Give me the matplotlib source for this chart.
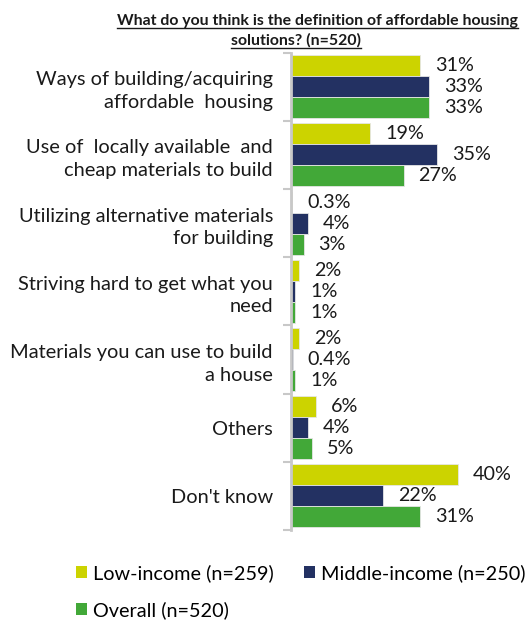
import matplotlib
matplotlib.use("Agg")
import matplotlib.pyplot as plt
from matplotlib.patches import Patch
from matplotlib.lines import Line2D
from matplotlib.ticker import FixedLocator
import numpy as np

plt.rcParams['font.family'] = ['Lato', 'DejaVu Sans']

categories = [
    "Ways of building/acquiring\naffordable  housing",
    "Use of  locally available  and\ncheap materials to build",
    "Utilizing alternative materials\nfor building",
    "Striving hard to get what you\nneed",
    "Materials you can use to build\na house",
    "Others",
    "Don't know",
]
low_income = [31, 19, 0.3, 2, 2, 6, 40]
middle_income = [33, 35, 4, 1, 0.4, 4, 22]
overall = [33, 27, 3, 1, 1, 5, 31]
value_labels_low = ["31%", "19%", "0.3%", "2%", "2%", "6%", "40%"]
value_labels_mid = ["33%", "35%", "4%", "1%", "0.4%", "4%", "22%"]
value_labels_all = ["33%", "27%", "3%", "1%", "1%", "5%", "31%"]
series_names = ["Low-income (n=259)", "Middle-income (n=250)", "Overall (n=520)"]
colors = ["#CCD300", "#233162", "#42A838"]

W, H = 528, 621
fig = plt.figure(figsize=(W / 100, H / 100), dpi=100)

ax_left, ax_right = 291, 520
ax_top, ax_bottom = 52.5, 530
ax = fig.add_axes([ax_left / W, 1 - ax_bottom / H,
                   (ax_right - ax_left) / W, (ax_bottom - ax_top) / H])

n = len(categories)
y = np.arange(n)
bh = 0.308
series = [low_income, middle_income, overall]
labels = [value_labels_low, value_labels_mid, value_labels_all]
for k, (vals, labs, col) in enumerate(zip(series, labels, colors)):
    offs = (k - 1) * bh
    ax.barh(y + offs, vals, height=bh, color=col, edgecolor="#e6e6e6",
            linewidth=0.6)
    for yi, v, lab in zip(y, vals, labs):
        ax.annotate(lab, (v, yi + offs), xytext=(15, 0),
                    textcoords="offset pixels", ha="left", va="center",
                    fontsize=14.2, color="#1a1a1a")

ax.set_xlim(0, (ax_right - ax_left) / 4.17)
ax.set_ylim(n - 0.5, -0.5)

for s in ["top", "right", "bottom"]:
    ax.spines[s].set_visible(False)
ax.spines["left"].set_color("#c8c8c8")
ax.spines["left"].set_linewidth(2)
ax.set_xticks([])

ax.set_yticks(y)
ax.set_yticklabels(categories, fontsize=14.4, color="#1a1a1a",
                   linespacing=1.4)
ax.tick_params(axis="y", which="major", length=0, pad=13)
ax.yaxis.set_minor_locator(FixedLocator(np.arange(-0.5, n, 1.0)))
ax.tick_params(axis="y", which="minor", length=5.5, width=1.5,
               color="#c8c8c8")

# Title, bold and underlined
t1 = fig.text(317.5 / W, 1 - 25 / H,
              "What do you think is the definition of affordable housing",
              ha="center", va="baseline", fontsize=11.4, fontweight="bold",
              color="#1a1a1a")
t2 = fig.text(296 / W, 1 - 45 / H, "solutions? (n=520)",
              ha="center", va="baseline", fontsize=11.4, fontweight="bold",
              color="#1a1a1a")

# Legend
handles = [Patch(facecolor=c) for c in colors]
order = [0, 2, 1]
fig.legend([handles[i] for i in order], [series_names[i] for i in order],
           ncol=2, loc="upper left", bbox_to_anchor=(76 / W, 1 - 564 / H),
           frameon=False, fontsize=14.3, handlelength=0.55, handleheight=0.55,
           handletextpad=0.3, columnspacing=1.55, labelspacing=0.95,
           borderpad=0, borderaxespad=0)

fig.canvas.draw()
renderer = fig.canvas.get_renderer()
for t, base in [(t1, 25), (t2, 45)]:
    bb = t.get_window_extent(renderer)
    yl = 1 - (base + 2.5) / H
    fig.add_artist(Line2D([bb.x0 / W, bb.x1 / W], [yl, yl],
                          transform=fig.transFigure, color="#1a1a1a",
                          linewidth=1.0))

fig.savefig("out.png", dpi=100)
